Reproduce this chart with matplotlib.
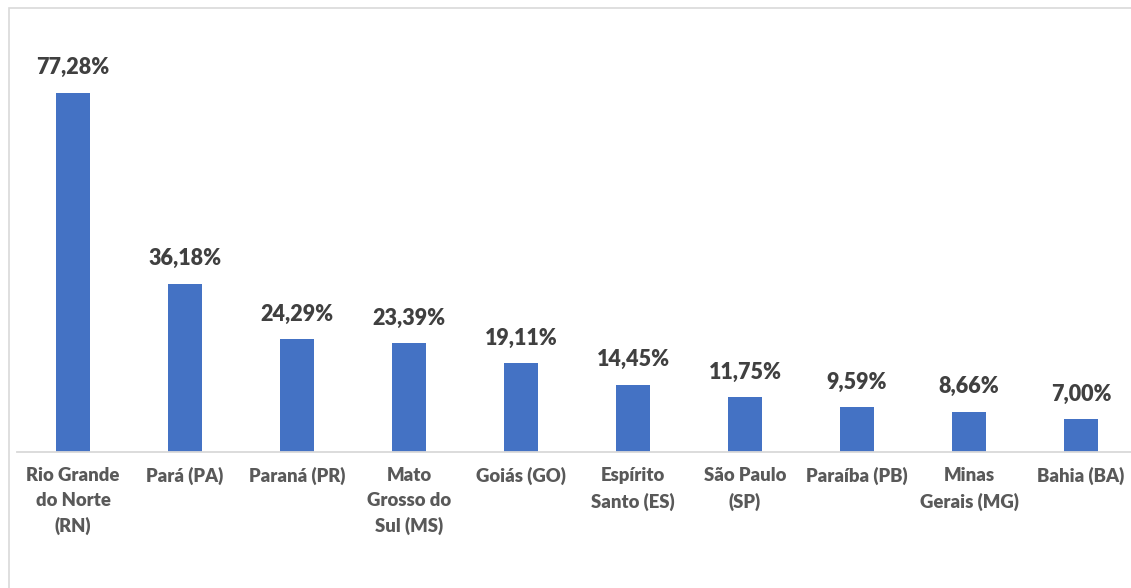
import matplotlib.pyplot as plt
from matplotlib.patches import Rectangle

# dados
estados = ["Rio Grande\ndo Norte\n(RN)", "Pará (PA)", "Paraná (PR)", "Mato\nGrosso do\nSul (MS)",
           "Goiás (GO)", "Espírito\nSanto (ES)", "São Paulo\n(SP)", "Paraíba (PB)",
           "Minas\nGerais (MG)", "Bahia (BA)"]
valores = [77.28, 36.18, 24.29, 23.39, 19.11, 14.45, 11.75, 9.59, 8.66, 7.00]
rotulos = ["77,28%", "36,18%", "24,29%", "23,39%", "19,11%", "14,45%", "11,75%", "9,59%", "8,66%", "7,00%"]

plt.rcParams['font.family'] = ['Lato', 'DejaVu Sans']

W, H = 1131, 588
fig = plt.figure(figsize=(W / 100, H / 100), dpi=100)

# area do grafico (estende um pouco além da borda direita, como no original)
left, right, base, top = 17, 1137, 452, 9
ax = fig.add_axes([left / W, (H - base) / H, (right - left) / W, (base - top) / H])

x = range(len(valores))
ax.bar(x, valores, width=0.31, color="#4472C4", zorder=2)
ax.set_xlim(-0.5, len(valores) - 0.5)
ax.set_ylim(0, (base - top) / 4.646)

for xi, v, r in zip(x, valores, rotulos):
    ax.annotate(r, (xi, v), xytext=(0, 10.5), textcoords="offset points",
                ha="center", va="bottom", fontsize=15.5, fontweight="heavy", color="#404040")

ax.set_xticks(list(x))
ax.set_xticklabels(estados, fontsize=13.3, fontweight="heavy", color="#595959", linespacing=1.55)
ax.tick_params(axis="x", length=0, pad=11)
ax.set_yticks([])
for s in ["top", "right", "left"]:
    ax.spines[s].set_visible(False)
ax.spines["bottom"].set_color("#d9d9d9")
ax.spines["bottom"].set_linewidth(1.3)

# borda do grafico
fig.patches.append(Rectangle((8.5 / W, -0.1), 1.2, (H - 8.5) / H + 0.1, transform=fig.transFigure,
                             fill=False, edgecolor="#d9d9d9", linewidth=1.2))

fig.savefig("out.png", dpi=100)
